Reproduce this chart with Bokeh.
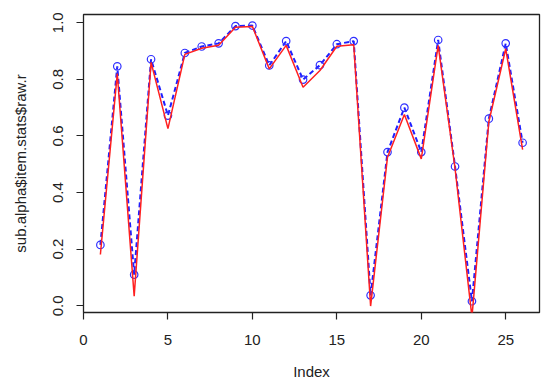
from bokeh.plotting import figure
from bokeh.models import Range1d, FixedTicker, ColumnDataSource, NumeralTickFormatter
from bokeh.embed import file_html
from bokeh.resources import INLINE

index = list(range(1, 27))
alpha_raw_r = [0.215, 0.846, 0.110, 0.871, 0.672, 0.893, 0.916, 0.927, 0.988, 0.990,
               0.849, 0.935, 0.799, 0.850, 0.924, 0.935, 0.037, 0.543, 0.700, 0.543,
               0.939, 0.492, 0.016, 0.661, 0.927, 0.576]
other_raw_r = [0.181, 0.820, 0.034, 0.860, 0.626, 0.888, 0.910, 0.920, 0.984, 0.987,
               0.837, 0.920, 0.772, 0.831, 0.917, 0.922, -0.001, 0.525, 0.676, 0.519,
               0.920, 0.485, -0.040, 0.650, 0.908, 0.552]
x_ticks = [0, 5, 10, 15, 20, 25]
y_ticks = [0.0, 0.2, 0.4, 0.6, 0.8, 1.0]

src = ColumnDataSource(dict(x=index, blue=alpha_raw_r, red=other_raw_r))

FONT = "Liberation Sans"

p = figure(width=548, height=388, output_backend="svg", toolbar_location=None,
           x_range=Range1d(0, 27), y_range=Range1d(-0.0237, 1.029),
           min_border_left=83, min_border_right=9, min_border_top=14, min_border_bottom=76)

p.grid.visible = False
p.outline_line_color = "#222222"
p.outline_line_width = 1.3
p.background_fill_color = "white"
p.border_fill_color = "white"

p.line("x", "blue", source=src, line_color="#1f1fff", line_width=2, line_dash="5 3")
p.scatter("x", "blue", source=src, marker="circle", size=7.5, fill_color=None,
          line_color="#3030ff", line_width=1.2)
p.line("x", "red", source=src, line_color="#ff2020", line_width=1.5)

for ax in (p.xaxis[0], p.yaxis[0]):
    ax.axis_line_color = None
    ax.major_tick_line_color = "#222222"
    ax.major_tick_line_width = 1.2
    ax.major_tick_out = 7
    ax.major_tick_in = 0
    ax.minor_tick_line_color = None
    ax.major_label_text_font = FONT
    ax.major_label_text_font_size = "15px"
    ax.major_label_text_color = "#222222"
    ax.axis_label_text_font = FONT
    ax.axis_label_text_font_size = "15px"
    ax.axis_label_text_font_style = "normal"
    ax.axis_label_text_color = "#222222"

p.xaxis.ticker = FixedTicker(ticks=x_ticks)
p.yaxis.ticker = FixedTicker(ticks=y_ticks)
p.yaxis.formatter = NumeralTickFormatter(format="0.0")
p.xaxis.axis_label = "Index"
p.yaxis.axis_label = "sub.alpha$item.stats$raw.r"
p.yaxis.major_label_orientation = "vertical"
p.xaxis.major_label_standoff = 15
p.xaxis.axis_label_standoff = 15
p.yaxis.major_label_standoff = 13
p.yaxis.axis_label_standoff = 22

open("out.html", "w").write(file_html(p, INLINE))
